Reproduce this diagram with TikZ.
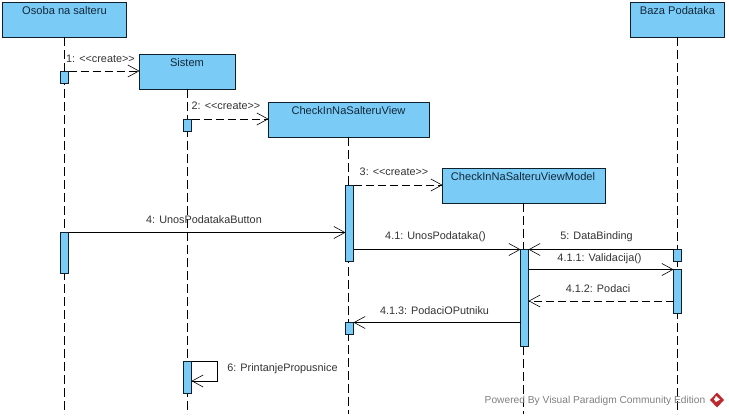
\documentclass[tikz,border=0pt]{standalone}
\usepackage{fontspec}
\setmainfont{Liberation Sans}
\usetikzlibrary{arrows.meta}
\definecolor{boxfill}{HTML}{7ACBF5}
\definecolor{boxline}{HTML}{10202A}
\definecolor{nametext}{HTML}{12283A}
\definecolor{msgtext}{HTML}{333333}
\definecolor{logored}{HTML}{C0282D}
\tikzset{
  x=1pt,y=-1pt,
  lifebox/.style={draw=boxline,fill=boxfill,line width=0.9pt,anchor=north west,inner sep=0pt,outer sep=0pt},
  bar/.style={draw=boxline,fill=boxfill,line width=0.9pt,anchor=north,inner sep=0pt,outer sep=0pt,minimum width=8pt},
  lifeline/.style={draw=black,line width=0.8pt,dash pattern=on 9pt off 4pt},
  msg/.style={draw=black,line width=0.8pt,-{Straight Barb[length=11pt,width=12pt,line width=0.6pt]}},
  ret/.style={msg,dash pattern=on 8pt off 4pt},
  namelabel/.style={font=\fontsize{11.1}{12}\selectfont,text=nametext,inner sep=0pt},
  msglabel/.style={font=\fontsize{10.85}{12}\selectfont,text=msgtext,inner sep=0pt},
}
\begin{document}
\begin{tikzpicture}
\useasboundingbox (0,0) rectangle (729,417);
\fill[white] (0,0) rectangle (729,417);
% heads
\node[lifebox,minimum width=124pt,minimum height=34.5pt] (osoba) at (2.5,2.5) {};
\node[lifebox,minimum width=96pt,minimum height=34.5pt] (sistem) at (139.5,54.5) {};
\node[lifebox,minimum width=161pt,minimum height=34.5pt] (view) at (268.5,102.5) {};
\node[lifebox,minimum width=163pt,minimum height=34.5pt] (vm) at (442.5,168.5) {};
\node[lifebox,minimum width=94pt,minimum height=34.5pt] (baza) at (630.5,2.5) {};
% lifeline ends
\coordinate (endA) at (64.5,414);
\coordinate (endB) at (187.5,414);
\coordinate (endC) at (348.5,414);
\coordinate (endD) at (523.5,414);
\coordinate (endE) at (677.5,414);
\draw[lifeline] (osoba.south -| endA) -- (endA);
\draw[lifeline] (sistem.south -| endB) -- (endB);
\draw[lifeline] (view.south -| endC) -- (endC);
\draw[lifeline] (vm.south -| endD) -- (endD);
\draw[lifeline] (baza.south -| endE) -- (endE);
% activation bars
\node[bar,minimum height=12pt] (a1) at (64.5,71) {};
\node[bar,minimum height=12pt] (a2) at (187.5,119) {};
\node[bar,minimum height=76.5pt] (a3) at (349.5,185) {};
\node[bar,minimum height=40.5pt] (a4) at (64.5,232.5) {};
\node[bar,minimum height=96.5pt] (a5) at (524.5,249.5) {};
\node[bar,minimum height=12pt] (a6) at (677.5,249.5) {};
\node[bar,minimum height=43.5pt] (a7) at (677.5,269.5) {};
\node[bar,minimum height=12pt] (a8) at (349.5,322.5) {};
\node[bar,minimum height=32pt] (a9) at (187.5,361.5) {};
% messages
\draw[ret] (a1.north east) -- (a1.north east -| sistem.west);
\draw[ret] (a2.north east) -- (a2.north east -| view.west);
\draw[ret] (a3.north east) -- (a3.north east -| vm.west);
\draw[msg] (a4.north east) -- (a4.north east -| a3.west);
\draw[msg] (a3.east |- a5.north) -- (a5.north west);
\draw[msg] (a6.north west) -- (a5.north east);
\draw[msg] (a5.east |- a7.north) -- (a7.north west);
\coordinate (r412) at (a7.west |- 0,301);
\draw[ret] (r412) -- (r412 -| a5.east);
\coordinate (r413) at (a5.west |- a8.north);
\draw[msg] (r413) -- (a8.north east);
\coordinate (s1) at (217.5,361.5);
\coordinate (s2) at (217.5,381);
\draw[msg] (a9.north east) -- (s1) -- (s2) -- (s2 -| a9.east);
% names
\node[namelabel] (t1) at (64.5,10.5) {Osoba na salteru};
\node[namelabel] (t2) at (187,62.5) {Sistem};
\node[namelabel] (t3) at (348.5,110.5) {CheckInNaSalteruView};
\node[namelabel] (t4) at (523,176.5) {CheckInNaSalteruViewModel};
\node[namelabel] (t5) at (677.5,10.5) {Baza Podataka};
% message labels
\node[msglabel] (m1) at (100.5,58.5) {1: <{}<create>{}>};
\node[msglabel] (m2) at (226,106) {2: <{}<create>{}>};
\node[msglabel] (m3) at (394,172) {3: <{}<create>{}>};
\node[msglabel] (m4) at (204,220) {4: UnosPodatakaButton};
\node[msglabel] (m41) at (435.5,237) {4.1: UnosPodataka()};
\node[msglabel] (m5) at (596.5,236.5) {5: DataBinding};
\node[msglabel] (m411) at (599.5,259) {4.1.1: Validacija()};
\node[msglabel] (m412) at (598,289) {4.1.2: Podaci};
\node[msglabel] (m413) at (434.5,311) {4.1.3: PodaciOPutniku};
\node[msglabel] (m6) at (282.5,369) {6: PrintanjePropusnice};
% watermark
\node[font=\fontsize{10.2}{12}\selectfont,text=black!50,inner sep=0pt] (wm) at (595,400.5) {Powered By\hspace{3pt}Visual Paradigm Community Edition};
\fill[logored] (717,392.5) -- (724,400) -- (717,407.5) -- (710,400) -- cycle;
\fill[white] (716,396) -- (720,399.5) -- (716,402) -- (714,399.5) -- cycle;
\end{tikzpicture}
\end{document}
